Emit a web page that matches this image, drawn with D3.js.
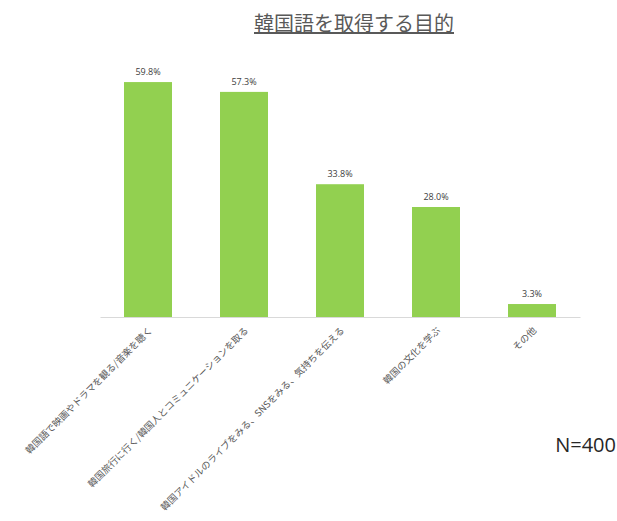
<!DOCTYPE html>
<meta charset="utf-8">
<style>
    body {
        margin: 0;
        background-color: #ffffff;
        font-family: "Noto Sans CJK JP", "Open Sans", sans-serif;
    }
</style>

<body>
    <script src="https://d3js.org/d3.v7.min.js"></script>

    <script>
        var width = 617,
            height = 521;

        // chart data
        const categories = [
            "韓国語で映画やドラマを観る/音楽を聴く",
            "韓国旅行に行く/韓国人とコミュニケーションを取る",
            "韓国アイドルのライブをみる、SNSをみる、気持ちを伝える",
            "韓国の文化を学ぶ",
            "その他"
        ]
        const percents = [59.8, 57.3, 33.8, 28.0, 3.3]
        const title = "韓国語を取得する目的"
        const note = "N=400"

        var svg = d3.select("body").append("svg")
            .attr("width", width)
            .attr("height", height)

        var x = d3.scaleBand()
            .domain(categories)
            .range([100, 580])
            .paddingInner(0.5)
            .paddingOuter(0.25)

        var y = d3.scaleLinear()
            .domain([0, 70])
            .range([317, 42])

        // title, underlined
        svg.append("text")
            .attr("x", 354)
            .attr("y", 31)
            .attr("text-anchor", "middle")
            .attr("font-size", 20)
            .attr("fill", "#595959")
            .attr("text-decoration", "underline")
            .text(title)

        // bars
        svg.selectAll("rect.bar")
            .data(percents)
            .enter().append("rect")
            .attr("class", "bar")
            .attr("x", (d, i) => x(categories[i]))
            .attr("y", d => y(d))
            .attr("width", x.bandwidth())
            .attr("height", d => y(0) - y(d))
            .attr("fill", "#92d050")

        // value labels
        svg.selectAll("text.val")
            .data(percents)
            .enter().append("text")
            .attr("class", "val")
            .attr("x", (d, i) => x(categories[i]) + x.bandwidth() / 2)
            .attr("y", d => y(d) - 7)
            .attr("text-anchor", "middle")
            .attr("font-family", "Open Sans, sans-serif")
            .attr("font-size", 9)
            .attr("fill", "#404040")
            .text(d => d.toFixed(1) + "%")

        // x axis, only the line and rotated labels
        var xAxis = svg.append("g")
            .attr("transform", "translate(0," + y(0) + ")")
            .call(d3.axisBottom(x).tickSize(0).tickSizeOuter(0))

        xAxis.select(".domain")
            .attr("stroke", "#d9d9d9")

        xAxis.selectAll(".tick text")
            .attr("font-family", "Noto Sans CJK JP, sans-serif")
            .attr("font-size", 9.5)
            .attr("fill", "#595959")
            .attr("text-anchor", "end")
            .attr("x", 0)
            .attr("y", 0)
            .attr("dy", 0)
            .attr("transform", "translate(5,14) rotate(-45)")

        svg.append("text")
            .attr("x", 616)
            .attr("y", 452)
            .attr("text-anchor", "end")
            .attr("font-family", "Open Sans, sans-serif")
            .attr("font-size", 20)
            .attr("fill", "#262626")
            .text(note)

    </script>
</body>

</html>
